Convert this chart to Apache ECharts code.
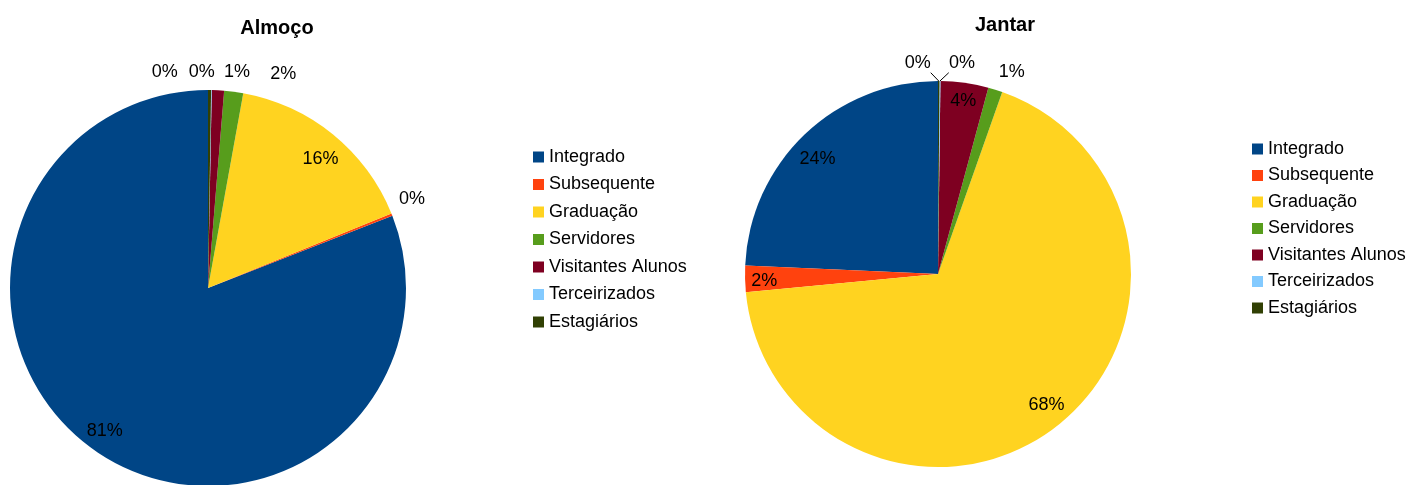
<!DOCTYPE html>
<html>
<head>
<meta charset="utf-8">
<script src="https://cdn.jsdelivr.net/npm/echarts@6/dist/echarts.min.js"></script>
<style>
  html, body { margin: 0; padding: 0; background: #fff; }
  #chart { width: 1409px; height: 485px; }
</style>
</head>
<body>
<div id="chart"></div>
<script>
// categorias e valores (percentuais)
const categories = ["Integrado", "Subsequente", "Graduação", "Servidores", "Visitantes Alunos", "Terceirizados", "Estagiários"];
const almocoValues = [80.95, 0.2, 16.0, 1.55, 1.0, 0.05, 0.25];
const jantarValues = [24.3, 2.2, 68.1, 1.2, 4.0, 0.08, 0.12];
const palette = ["#004586", "#ff420e", "#ffd320", "#579d1c", "#7e0021", "#83caff", "#314004"];

const FONT = "Liberation Sans";

// posição dos rótulos: k = fração do raio ao longo do ângulo médio, dx/dy = ajuste fino
const almocoLabels = [
  { k: 0.89, dx: -4, dy: -3 },
  { k: 1.12, dx: -2, dy: -7 },
  { k: 0.87, dx: 4, dy: 5 },
  { k: 1.1, dx: 47, dy: 2 },
  { k: 1.1, dx: 18, dy: 1.5 },
  { k: 1.1, dx: -10, dy: 2 },
  { k: 1.1, dx: -45, dy: 2 }
];
const jantarLabels = [
  { k: 0.88, dx: -3, dy: 8 },
  { k: 0.88, dx: -4, dy: 3 },
  { k: 0.88, dx: 4, dy: -3 },
  { k: 1.11, dx: 10, dy: 3 },
  { k: 0.91, dx: 1, dy: 1 },
  { k: 1, dx: 22, dy: -18, lead: [8.8, -8.3] },
  { k: 1, dx: -21, dy: -18, lead: [-8, -8.3] }
];

// rótulos estilo LibreOffice: calcula a posição a partir do ângulo médio da fatia (sentido anti-horário a partir do topo)
function labelPlacer(values, center, radius, spec) {
  const total = values.reduce((a, b) => a + b, 0);
  return (params) => {
    const i = params.dataIndex;
    let before = 0;
    for (let j = 0; j < i; j++) before += values[j];
    const mid = (before + values[i] / 2) / total * Math.PI * 2;
    const ux = -Math.sin(mid), uy = -Math.cos(mid);
    const s = spec[i];
    const bx = center[0] + ux * radius * s.k;
    const by = center[1] + uy * radius * s.k;
    const out = {
      x: bx + (s.dx || 0),
      y: by + (s.dy || 0),
      align: "center",
      verticalAlign: "middle"
    };
    if (s.lead) {
      const ex = bx + s.lead[0], ey = by + s.lead[1];
      out.labelLinePoints = [[bx, by], [ex, ey], [ex, ey]];
    }
    return out;
  };
}

function pieSeries(values, center, radius, spec) {
  return {
    type: "pie",
    center: center,
    radius: radius,
    startAngle: 90,
    clockwise: false,
    avoidLabelOverlap: false,
    itemStyle: { borderWidth: 0 },
    emphasis: { disabled: true },
    label: {
      show: true,
      position: "outside",
      color: "#000",
      fontFamily: FONT,
      fontSize: 18,
      formatter: (p) => Math.round(p.percent) + "%"
    },
    labelLine: { show: false },
    labelLayout: labelPlacer(values, center, radius, spec),
    data: categories.map((name, i) => {
      const item = { name: name, value: values[i] };
      if (spec[i].lead) {
        item.labelLine = { show: true, lineStyle: { color: "#000", width: 1 } };
      }
      return item;
    })
  };
}

function legendAt(left, top, gap) {
  return {
    orient: "vertical",
    left: left,
    top: top,
    itemGap: gap,
    itemWidth: 11,
    itemHeight: 11,
    icon: "rect",
    selectedMode: false,
    data: categories,
    textStyle: { color: "#000", fontFamily: FONT, fontSize: 18, lineHeight: 18 }
  };
}

const chart = echarts.init(document.getElementById("chart"));
chart.setOption({
  animation: false,
  color: palette,
  title: [
    { text: "Almoço", left: 272, top: 13, textAlign: "center",
      textStyle: { fontFamily: FONT, fontSize: 20, fontWeight: "bold", color: "#000" } },
    { text: "Jantar", left: 1000, top: 10, textAlign: "center",
      textStyle: { fontFamily: FONT, fontSize: 20, fontWeight: "bold", color: "#000" } }
  ],
  legend: [legendAt(528, 143, 9.5), legendAt(1247, 135, 8.5)],
  series: [
    pieSeries(almocoValues, [208, 288], 198, almocoLabels),
    pieSeries(jantarValues, [938, 274], 193, jantarLabels)
  ]
});
</script>
</body>
</html>
